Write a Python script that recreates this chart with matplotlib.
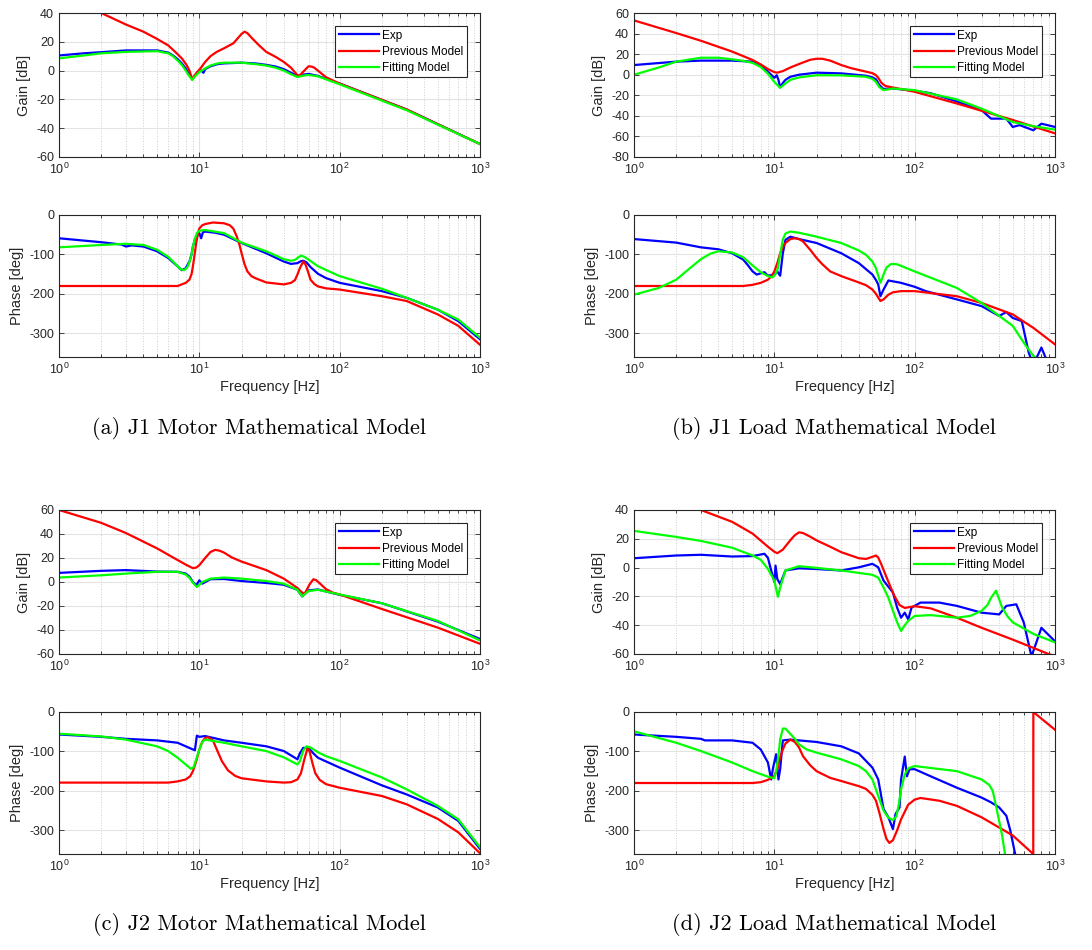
import matplotlib.pyplot as plt

plt.rcParams['font.family'] = ['Liberation Sans', 'DejaVu Sans']
plt.rcParams['axes.unicode_minus'] = False
plt.rcParams['mathtext.fontset'] = 'custom'
plt.rcParams['mathtext.rm'] = 'Liberation Sans'
plt.rcParams['mathtext.it'] = 'Liberation Sans:italic'

labels = ['Exp', 'Previous Model', 'Fitting Model']
colors = ['#0000ff', '#ff0000', '#00ff00']

# ---------- (a) J1 motor ----------
a_gain_exp_f = [1, 1.5, 2, 3, 5, 6, 6.5, 7, 7.5, 8, 8.5, 8.9, 9.3, 9.7, 10.3, 10.7, 11, 12, 13.5, 15, 20, 25, 30, 35, 40, 45, 50, 55, 60, 70, 100, 300, 1000]
a_gain_exp = [10.5, 12, 12.8, 14, 14, 12.5, 10.5, 8, 5, 1.5, -3, -6, -3.5, -1, 0, -1.5, 1, 3, 4.5, 5, 5.5, 5, 4, 2.8, 1, -1.5, -3.7, -2.8, -2.3, -3.7, -9, -27, -51]
a_gain_prev_f = [2, 3, 4, 5, 6, 6.9, 7.5, 8.1, 8.5, 8.9, 9.3, 10.2, 11, 12, 13.3, 15, 17.5, 19, 20, 21, 22, 24, 27, 30, 35, 40, 45, 50.5, 53, 56, 60, 63, 66, 72, 80, 90, 100, 300, 1000]
a_gain_prev = [40, 32, 27, 22, 17.5, 12, 8.5, 4, 0, -6, -3, 1.6, 6, 10, 13, 15.5, 19, 23, 25.5, 27, 26, 22, 17, 13, 9.5, 6, 2, -3.7, -2.5, 0, 3, 2.8, 2, -1, -4.6, -7, -9, -27, -51]
a_gain_fit_f = [1, 1.5, 2, 3, 5, 6, 6.5, 7, 7.5, 8, 8.5, 8.9, 9.3, 10, 11, 12, 13.5, 15, 20, 25, 30, 35, 40, 45, 50, 55, 60, 70, 100, 300, 1000]
a_gain_fit = [8.5, 10.5, 12, 13, 13.5, 12, 10, 7, 4, 0, -4, -6.5, -4, -1, 1.5, 3.5, 5, 5.5, 5.5, 4.5, 3.5, 2, 0, -2.5, -4.5, -3.5, -3, -4, -9.5, -27.5, -51]

a_ph_exp_f = [1, 2, 2.8, 3, 3.3, 4, 5, 6, 6.5, 7, 7.5, 8, 8.5, 8.8, 9, 9.3, 9.6, 10, 10.3, 10.6, 11, 13, 15, 20, 30, 40, 45, 50, 53, 55, 58, 62, 70, 80, 100, 200, 300, 500, 700, 1000]
a_ph_exp = [-59, -69, -75, -80, -77, -80, -92, -109, -120, -130, -140, -135, -118, -100, -80, -62, -52, -46, -59, -44, -42, -45, -50, -71, -97, -118, -124, -122, -117, -116, -120, -132, -149, -160, -172, -193, -210, -240, -269, -315]
a_ph_prev_f = [1, 7, 8, 8.5, 8.8, 9, 9.3, 9.5, 9.8, 10, 10.5, 11, 12.5, 15, 16.5, 17.5, 18.5, 19.3, 20, 21, 22, 23.5, 25, 30, 40, 45, 48, 50, 52, 55, 57, 59, 62, 66, 70, 80, 100, 200, 300, 500, 700, 1000]
a_ph_prev = [-180, -180, -172, -164, -150, -130, -95, -71, -45, -34, -26, -23, -19, -21, -26, -35, -55, -75, -97, -125, -143, -155, -160, -171, -176, -172, -165, -151, -135, -118, -125, -140, -164, -175, -181, -186, -189, -206, -218, -252, -281, -329]
a_ph_fit_f = [1, 2, 3, 4, 5, 6, 6.5, 7, 7.4, 7.8, 8.2, 8.5, 8.8, 9, 9.3, 9.6, 10, 11, 15, 20, 30, 40, 45, 48, 50, 53, 56, 60, 70, 100, 200, 300, 500, 700, 1000]
a_ph_fit = [-82, -76, -73, -76, -88, -106, -118, -130, -138, -140, -133, -120, -100, -80, -60, -46, -40, -38, -46, -70, -92, -112, -116, -114, -109, -103, -106, -113, -130, -155, -187, -210, -240, -265, -311]

# ---------- (b) J1 load ----------
b_gain_exp_f = [1, 2, 3, 5, 7, 8, 9, 10, 10.4, 10.7, 11, 11.5, 12, 13, 15, 20, 30, 45, 50, 53, 56, 60, 65, 70, 100, 130, 200, 300, 350, 450, 500, 560, 700, 800, 1000]
b_gain_exp = [9.4, 12.7, 13.7, 13.7, 12.7, 9, 3, -3, -0.5, -5, -12.4, -8, -5, -2, 0, 2, 1.3, -1, -2.6, -4.5, -10, -14, -13.5, -13.4, -15.6, -18, -26, -34.5, -42.7, -42.7, -50.8, -49, -54, -47.6, -50.8]
b_gain_prev_f = [1, 2, 3, 5, 7, 8, 9, 10, 10.5, 11.5, 13, 15, 18, 20, 22, 25, 30, 35, 40, 45, 50, 53, 55, 58, 62, 70, 100, 200, 500, 1000]
b_gain_prev = [52.8, 40.5, 33, 22.5, 14.3, 10, 5.5, 2.5, 2, 3.5, 7, 10.4, 14.5, 15.5, 15.5, 13.7, 9.4, 6.5, 4.6, 3, 1.5, -0.5, -3, -8, -11, -12.4, -16.6, -28, -44, -57]
b_gain_fit_f = [1, 1.5, 2, 3, 4, 5, 6, 7, 8, 9, 10, 11, 12, 13, 15, 20, 30, 45, 50, 53, 56, 60, 70, 100, 200, 300, 500, 700, 1000]
b_gain_fit = [0, 7, 12.7, 16.5, 16.5, 15, 13.5, 11.5, 7.5, 1, -7, -12.7, -8.5, -5, -2.6, -0.5, -0.6, -2, -4, -7, -12, -15, -13.4, -15, -24, -33, -46, -50, -53.4]

b_ph_exp_f = [1, 2, 3, 4, 5, 6, 6.5, 7, 7.5, 8.5, 9, 10, 10.5, 11, 11.5, 12, 13, 15, 20, 30, 40, 50, 53, 55, 57, 60, 65, 80, 100, 120, 200, 300, 400, 450, 500, 580, 650, 700, 800, 900, 1000]
b_ph_exp = [-61, -70, -82, -87, -97, -113, -128, -143, -151, -145, -154, -151, -143, -154, -97, -63, -55, -61, -71, -97, -122, -151, -165, -176, -206, -189, -166, -172, -182, -193, -214, -231, -256, -246, -261, -269, -349, -380, -336, -380, -400]
b_ph_prev_f = [1, 6, 7, 8, 9, 9.5, 10, 10.5, 11, 11.5, 12, 13, 14, 15, 16, 18, 20, 22, 25, 30, 40, 45, 50, 53, 57, 60, 65, 70, 80, 100, 200, 300, 500, 700, 1000]
b_ph_prev = [-180, -180, -177, -172, -164, -156, -143, -122, -97, -82, -71, -61, -59, -61, -67, -88, -109, -125, -143, -155, -171, -178, -189, -200, -218, -214, -202, -196, -193, -193, -206, -223, -252, -286, -328]
b_ph_fit_f = [1, 1.5, 2, 2.5, 3, 3.5, 4, 5, 6, 7, 8, 9, 9.7, 10.2, 10.6, 11, 11.5, 12, 13, 15, 20, 30, 40, 45, 50, 53, 57, 60, 63, 68, 75, 100, 200, 300, 500, 600, 700, 750]
b_ph_fit = [-202, -185, -164, -135, -112, -98, -92, -95, -107, -128, -145, -155, -158, -150, -135, -100, -62, -47, -42, -45, -55, -71, -90, -101, -118, -135, -172, -151, -133, -124, -125, -143, -185, -223, -281, -324, -357, -365]

# ---------- (c) J2 motor ----------
c_gain_exp_f = [1, 2, 3, 5, 7, 8, 8.5, 9, 9.5, 10, 10.5, 12, 15, 20, 30, 40, 50, 54, 60, 70, 100, 200, 500, 1000]
c_gain_exp = [7.6, 9.3, 9.9, 8.7, 8.5, 7, 4.5, 0, -2.8, 1.4, -1.4, 2.3, 2.5, 0.8, -0.8, -2.3, -6.5, -12, -7, -6.2, -10.7, -17.7, -33, -47.5]
c_gain_prev_f = [1, 2, 3, 5, 7, 8, 9, 9.5, 10, 11, 12, 13, 14, 15, 17, 20, 30, 40, 50, 53, 56, 58, 61, 65, 68, 72, 80, 90, 100, 200, 500, 1000]
c_gain_prev = [60, 49.3, 40.8, 28, 18.3, 14.5, 11.5, 12, 14, 20, 25, 26.8, 26, 24.5, 20.5, 17, 9.9, 2.8, -5, -8, -10, -7, -2, 2.3, 1.5, -1, -6, -9, -10.4, -22.5, -38, -51.5]
c_gain_fit_f = [1, 2, 3, 5, 7, 8, 8.5, 9, 9.6, 10.5, 12, 15, 20, 30, 40, 50, 54, 60, 70, 100, 200, 500, 1000]
c_gain_fit = [3.7, 5.6, 7, 8.5, 8.5, 6.2, 3.5, -0.6, -4.2, 0, 2.8, 3.7, 2.8, 0.8, -1.4, -6.5, -12, -7.6, -6.5, -10.4, -17.7, -32.4, -48.7]

c_ph_exp_f = [1, 2, 3, 5, 7, 8, 9, 9.3, 9.6, 10, 11, 15, 20, 30, 40, 48, 50, 52, 55, 60, 65, 70, 100, 200, 300, 500, 700, 1000]
c_ph_exp = [-57, -63, -68, -72, -78, -87, -95, -97, -60, -63, -61, -72, -78, -87, -99, -116, -120, -105, -91, -91, -105, -116, -141, -186, -209, -242, -276, -347]
c_ph_prev_f = [1, 6, 7, 8, 8.6, 9, 9.5, 10, 10.5, 11, 11.5, 12.5, 13.5, 14.5, 16, 18, 20, 30, 40, 45, 50, 53, 56, 59, 61, 64, 67, 72, 80, 100, 200, 300, 500, 700, 1000]
c_ph_prev = [-179, -179, -176, -171, -163, -150, -125, -95, -75, -66, -64, -72, -100, -125, -148, -162, -168, -176, -179, -178, -171, -155, -120, -92, -100, -130, -155, -172, -183, -192, -213, -234, -271, -305, -358]
c_ph_fit_f = [1, 2, 3, 5, 6, 7, 8, 8.7, 9.1, 9.5, 10, 10.5, 11, 15, 20, 30, 40, 50, 52, 55, 58, 62, 70, 80, 100, 200, 300, 500, 700, 1000]
c_ph_fit = [-55, -62, -70, -87, -99, -116, -133, -144, -140, -120, -95, -76, -70, -78, -87, -99, -115, -133, -125, -98, -87, -90, -102, -112, -124, -166, -196, -238, -272, -343]

# ---------- (d) J2 load ----------
d_gain_exp_f = [1, 2, 3, 5, 7, 8.5, 9, 9.5, 10, 10.2, 10.5, 11, 12, 15, 20, 30, 40, 50, 55, 60, 70, 75, 80, 85, 90, 95, 110, 150, 200, 300, 400, 450, 530, 600, 680, 800, 1000]
d_gain_exp = [6.5, 8.4, 8.9, 7.7, 8, 9.6, 6.8, -2, -10, 1.4, -8, -11.4, -2, -0.5, -1, -2, 0.2, 2.6, 0.2, -9, -17.3, -27.8, -34.8, -31.3, -36, -27.8, -24.3, -24.3, -26.6, -31.3, -32.5, -26.6, -25.5, -38.3, -61.7, -41.8, -51.2]
d_gain_prev_f = [3, 5, 7, 9, 10, 10.5, 11.5, 13, 14, 15, 16, 18, 20, 25, 30, 40, 45, 50, 53, 55, 58, 62, 67, 72, 78, 85, 100, 130, 200, 300, 500, 900, 1000]
d_gain_prev = [40, 31.8, 23.6, 14.5, 11, 10, 12.5, 19, 22.5, 24.5, 24, 21.5, 18.9, 14.5, 10.7, 6.5, 6, 7.5, 8.4, 7, 2, -5, -13, -20, -26, -28, -26.8, -28.3, -34.8, -41.8, -50, -60, -61.5]
d_gain_fit_f = [1, 2, 3, 5, 7, 8, 9, 10, 10.6, 11, 12, 15, 20, 30, 40, 50, 55, 60, 65, 70, 75, 80, 85, 90, 100, 130, 200, 250, 300, 330, 350, 380, 400, 420, 460, 500, 700, 1000]
d_gain_fit = [25.5, 21.3, 18.5, 13.8, 8.4, 5.4, -0.9, -9, -20.3, -13.8, -2, 1, -0.2, -2, -3.7, -5, -7, -13.8, -21, -30, -38, -44, -40, -37, -33.6, -33, -34.8, -33.5, -30, -26, -21, -16, -22, -27.8, -34, -38, -46, -51.9]

d_ph_exp_f = [1, 2, 3, 3.2, 5, 7, 8, 9, 9.5, 9.8, 10.3, 10.7, 11, 11.5, 13, 20, 30, 40, 50, 55, 60, 65, 70, 73, 78, 80, 85, 88, 92, 100, 130, 200, 300, 350, 400, 450, 480, 520, 560]
d_ph_exp = [-57, -63, -68, -72, -72, -78, -95, -128, -171, -141, -107, -171, -145, -72, -70, -76, -87, -105, -141, -171, -246, -267, -297, -259, -242, -171, -113, -163, -145, -145, -163, -192, -217, -229, -242, -263, -300, -360, -400]
d_ph_prev_f = [1, 7, 8, 9, 10, 10.5, 11, 11.5, 12, 13, 14, 15, 16, 18, 20, 25, 30, 40, 45, 50, 53, 56, 60, 63, 66, 70, 75, 80, 90, 100, 110, 150, 200, 300, 500, 700, 701, 1000]
d_ph_prev = [-180, -180, -178, -172, -162, -145, -115, -95, -80, -70, -76, -90, -112, -135, -150, -167, -175, -188, -195, -210, -225, -255, -297, -322, -332, -325, -300, -272, -235, -222, -218, -225, -238, -267, -313, -360, 0, -45]
d_ph_fit_f = [1, 2, 3, 5, 7, 9, 10, 10.3, 10.7, 11, 11.5, 12, 12.5, 14, 15, 17, 20, 30, 40, 45, 50, 55, 60, 65, 70, 74, 77, 80, 85, 90, 100, 200, 300, 340, 360, 380, 420, 440, 460]
d_ph_fit = [-49, -78, -99, -128, -150, -164, -168, -150, -110, -70, -42, -42, -49, -68, -82, -95, -103, -120, -137, -150, -171, -213, -250, -268, -274, -265, -235, -196, -158, -143, -137, -150, -171, -185, -200, -238, -313, -360, -380]

captions = ['(a) J1 Motor Mathematical Model', '(b) J1 Load Mathematical Model',
            '(c) J2 Motor Mathematical Model', '(d) J2 Load Mathematical Model']

W, H = 1092, 950


def box(left, top, right, bottom):
    return [left / W, 1 - bottom / H, (right - left) / W, (bottom - top) / H]


def styleAxis(ax, ylim, yticks):
    ax.set_xscale('log')
    ax.set_xlim(1, 1000)
    ax.set_ylim(*ylim)
    ax.set_yticks(yticks)
    ax.set_axisbelow(True)
    ax.grid(True, which='major', color='#e3e3e3', linewidth=0.8, linestyle='-')
    ax.grid(True, which='minor', axis='x', color='#cfcfcf', linewidth=0.7, linestyle=':')
    ax.tick_params(which='both', direction='in', top=True, right=True, labelsize=9,
                   colors='#262626', width=0.6)
    ax.tick_params(which='major', length=3.5)
    ax.tick_params(which='minor', length=2)
    for s in ax.spines.values():
        s.set_color('#262626')
        s.set_linewidth(0.8)


def bodePanel(fig, left, top, gain, phase, gylim, gyticks, caption):
    right = left + 421
    axg = fig.add_axes(box(left, top, right, top + 144))
    axp = fig.add_axes(box(left, top + 202, right, top + 344))

    for (f, v), c, lab in zip(gain, colors, labels):
        axg.plot(f, v, color=c, linewidth=1.6, label=lab)
    for (f, v), c in zip(phase, colors):
        axp.plot(f, v, color=c, linewidth=1.6)

    styleAxis(axg, gylim, gyticks)
    styleAxis(axp, (-360, 0), [-300, -200, -100, 0])
    axg.set_ylabel('Gain [dB]', fontsize=10.5, color='#262626')
    axp.set_ylabel('Phase [deg]', fontsize=10.5, color='#262626')
    axp.set_xlabel('Frequency [Hz]', fontsize=10.5, color='#262626', labelpad=2)

    leg = axg.legend(loc='upper right', bbox_to_anchor=(1 - 13 / 421, 1 - 13 / 144),
                     borderaxespad=0, fontsize=8.5, handlelength=3.4, handletextpad=0.3,
                     labelspacing=0.35, borderpad=0.3, fancybox=False, framealpha=1,
                     edgecolor='#262626')
    leg.get_frame().set_linewidth(0.8)

    fig.text((left + 200) / W, 1 - (top + 415) / H, caption, family='cmr10',
             fontsize=16, ha='center', va='center')


fig = plt.figure(figsize=(W / 100, H / 100), dpi=100)

bodePanel(fig, 59, 13,
          [(a_gain_exp_f, a_gain_exp), (a_gain_prev_f, a_gain_prev), (a_gain_fit_f, a_gain_fit)],
          [(a_ph_exp_f, a_ph_exp), (a_ph_prev_f, a_ph_prev), (a_ph_fit_f, a_ph_fit)],
          (-60, 40), [-60, -40, -20, 0, 20, 40], captions[0])
bodePanel(fig, 634, 13,
          [(b_gain_exp_f, b_gain_exp), (b_gain_prev_f, b_gain_prev), (b_gain_fit_f, b_gain_fit)],
          [(b_ph_exp_f, b_ph_exp), (b_ph_prev_f, b_ph_prev), (b_ph_fit_f, b_ph_fit)],
          (-80, 60), [-80, -60, -40, -20, 0, 20, 40, 60], captions[1])
bodePanel(fig, 59, 510,
          [(c_gain_exp_f, c_gain_exp), (c_gain_prev_f, c_gain_prev), (c_gain_fit_f, c_gain_fit)],
          [(c_ph_exp_f, c_ph_exp), (c_ph_prev_f, c_ph_prev), (c_ph_fit_f, c_ph_fit)],
          (-60, 60), [-60, -40, -20, 0, 20, 40, 60], captions[2])
bodePanel(fig, 634, 510,
          [(d_gain_exp_f, d_gain_exp), (d_gain_prev_f, d_gain_prev), (d_gain_fit_f, d_gain_fit)],
          [(d_ph_exp_f, d_ph_exp), (d_ph_prev_f, d_ph_prev), (d_ph_fit_f, d_ph_fit)],
          (-60, 40), [-60, -40, -20, 0, 20, 40], captions[3])

fig.savefig('out.png', dpi=100)
